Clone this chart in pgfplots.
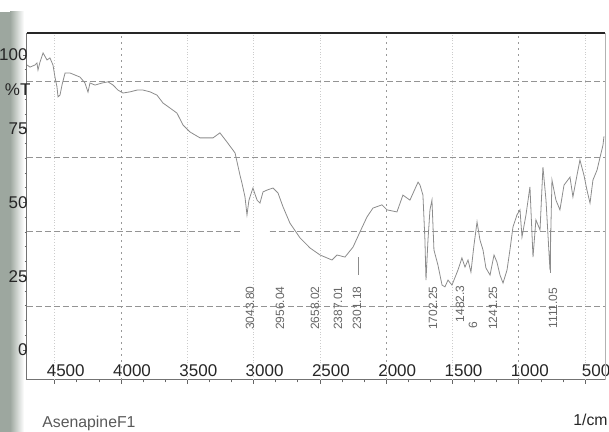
\documentclass[border=0pt]{standalone}
\usepackage{fontspec}
\setmainfont{Liberation Sans}
\usepackage{pgfplots}
\pgfplotsset{compat=1.18}
\definecolor{strip}{RGB}{140,152,142}
\definecolor{spec}{RGB}{140,140,140}
\begin{document}
\begin{tikzpicture}[x=1pt,y=1pt]
\useasboundingbox (0,0) rectangle (304.5,216);
% scan edge strip (beneath everything)
\fill[strip, opacity=0.85] (0,0) rectangle (5,210);
\shade[left color=strip, right color=white, opacity=0.85] (5,0) rectangle (12,210);
\begin{axis}[
  at={(13.5pt,26pt)}, anchor=south west,
  scale only axis, width=289pt, height=173.5pt,
  x dir=reverse, xmin=350, xmax=4709, ymin=-10.17, ymax=107.45,
  axis x line*=bottom, axis y line*=left,
  axis line style={black!55, line width=0.5pt},
  xtick={4500,4000,3500,3000,2500,2000,1500,1000,500}, minor x tick num=2,
  ytick={0,25,50,75,100}, minor y tick num=4,
  tick align=outside, major tick length=2pt, minor tick length=1.2pt,
  tick style={black!60, line width=0.4pt},
  /pgf/number format/assume math mode=true,
  /pgf/number format/1000 sep={},
  ticklabel style={font=\fontsize{8.5}{9}\selectfont, text=black!85},
  xticklabel style={anchor=center, xshift=5.5pt, yshift=6.5pt},
  yticklabel style={anchor=east, inner sep=0pt, xshift=2.5pt},
  clip=false,
]
% grid lines
\foreach \g in {4500,3500,3000,2500,1500,500}{
  \edef\temp{\noexpand\draw[black!20, densely dotted, line width=0.4pt] (axis cs:\g,-10.17) -- (axis cs:\g,107.45);}\temp}
\foreach \g in {4000,2000,1000}{
  \edef\temp{\noexpand\draw[black!40, dash pattern=on 1pt off 2pt, line width=0.5pt] (axis cs:\g,-10.17) -- (axis cs:\g,107.45);}\temp}
\draw[black!42, dash pattern=on 3pt off 1.5pt, line width=0.5pt] (axis cs:4709,90.85) -- (axis cs:350,90.85);
\draw[black!42, dash pattern=on 3pt off 1.5pt, line width=0.5pt] (axis cs:4709,65.4) -- (axis cs:350,65.4);
\draw[black!42, dash pattern=on 3pt off 1.5pt, line width=0.5pt] (axis cs:4709,40.0) -- (axis cs:3100,40.0);
\draw[black!42, dash pattern=on 3pt off 1.5pt, line width=0.5pt] (axis cs:2880,40.0) -- (axis cs:350,40.0);
\draw[black!42, dash pattern=on 3pt off 1.5pt, line width=0.5pt] (axis cs:4709,14.6) -- (axis cs:350,14.6);
% spectrum
\addplot[spec, line width=0.4pt, mark=none] coordinates {
(4709,96.6) (4686,95.9) (4649,96.6) (4634,97.3) (4626,94.9) (4611,97.6) (4588,100.7)
(4558,98.3) (4536,99.0) (4513,96.6) (4498,92.5) (4483,89.2) (4475,85.8) (4460,86.4)
(4445,89.8) (4422,93.9) (4385,93.9) (4347,93.2) (4309,92.5) (4272,90.5) (4249,87.4)
(4234,90.5) (4196,89.8) (4143,90.5) (4098,90.9) (4060,89.8) (4023,88.1) (3985,87.1)
(3932,87.5) (3879,88.1) (3834,88.1) (3781,87.5) (3729,86.4) (3683,83.7) (3630,82.0)
(3578,80.3) (3533,76.3) (3480,73.9) (3404,71.9) (3306,71.9) (3254,73.6) (3201,70.5)
(3140,66.8) (3103,59.3) (3088,56.6) (3065,51.9) (3050,45.8) (3035,50.8) (3005,54.9)
(2974,50.8) (2952,49.8) (2929,53.6) (2899,54.2) (2854,54.9) (2816,53.2) (2778,48.5)
(2726,43.0) (2650,38.0) (2575,34.6) (2499,32.2) (2409,30.5) (2371,32.2) (2311,31.5)
(2250,34.9) (2198,40.0) (2145,45.1) (2100,48.1) (2032,49.2) (1994,47.5) (1919,46.8)
(1874,52.5) (1821,50.8) (1760,56.9) (1745,55.9) (1723,52.5) (1708,37.3) (1700,23.7)
(1685,37.3) (1670,47.5) (1655,50.8) (1640,33.9) (1610,28.8) (1579,22.0) (1557,21.4)
(1534,23.7) (1504,22.0) (1459,27.1) (1429,31.2) (1406,28.1) (1383,30.5) (1361,26.4)
(1338,35.6) (1315,43.4) (1293,37.3) (1270,33.9) (1248,27.8) (1217,25.4) (1187,32.2)
(1165,29.8) (1142,25.4) (1119,22.7) (1089,27.1) (1067,33.9) (1044,41.7) (1014,45.8)
(991,47.5) (976,38.3) (946,45.8) (916,55.3) (893,31.5) (871,44.1) (840,40.7)
(825,55.3) (818,62.0) (795,50.8) (765,27.1) (750,57.6) (720,50.8) (690,47.5)
(659,55.9) (614,58.6) (592,51.9) (561,59.3) (539,64.4) (509,59.3) (486,54.2)
(463,49.8) (441,57.6) (410,61.0) (388,65.2) (365,69.5) (358,72.4)
};
% peak markers
\draw[black!45, line width=0.4pt] (axis cs:2208,31.5) -- (axis cs:2208,25.5);
\draw[black!45, line width=0.4pt] (axis cs:765,40.7) -- (axis cs:765,26.0);
% peak labels
\begin{scope}[every node/.style={rotate=90, font=\fontsize{6}{7}\selectfont, text=black!60, inner sep=0pt}]
\node at (axis cs:3027,14.2) {3043.80};
\node at (axis cs:2801,14.2) {2956.04};
\node at (axis cs:2537,14.2) {2658.02};
\node at (axis cs:2364,14.2) {2387.01};
\node at (axis cs:2220,14.2) {2301.18};
\node at (axis cs:1647,14.2) {1702.25};
\node at (axis cs:1443,15.6) {1482.3};
\node at (axis cs:1345,8.5) {6};
\node at (axis cs:1195,14.2) {1241.25};
\node at (axis cs:742,14.2) {1111.05};
\end{scope}
\node[anchor=east, inner sep=0pt, font=\fontsize{8.5}{9}\selectfont, text=black!85] at (axis cs:4680,88.1) {\%T};
% frame top and right
\draw[black!85, line width=0.9pt] (rel axis cs:0,1) -- (rel axis cs:1,1);
\draw[black!30, line width=0.4pt] (rel axis cs:1,0) -- (rel axis cs:1,1);
\end{axis}
\node[anchor=west, inner sep=0pt, font=\fontsize{7.9}{9}\selectfont, text=black!65] at (21,4.5) {AsenapineF1};
\node[anchor=east, inner sep=0pt, font=\fontsize{7.9}{9}\selectfont, text=black!85] at (304,6) {1/cm};
\end{tikzpicture}
\end{document}
